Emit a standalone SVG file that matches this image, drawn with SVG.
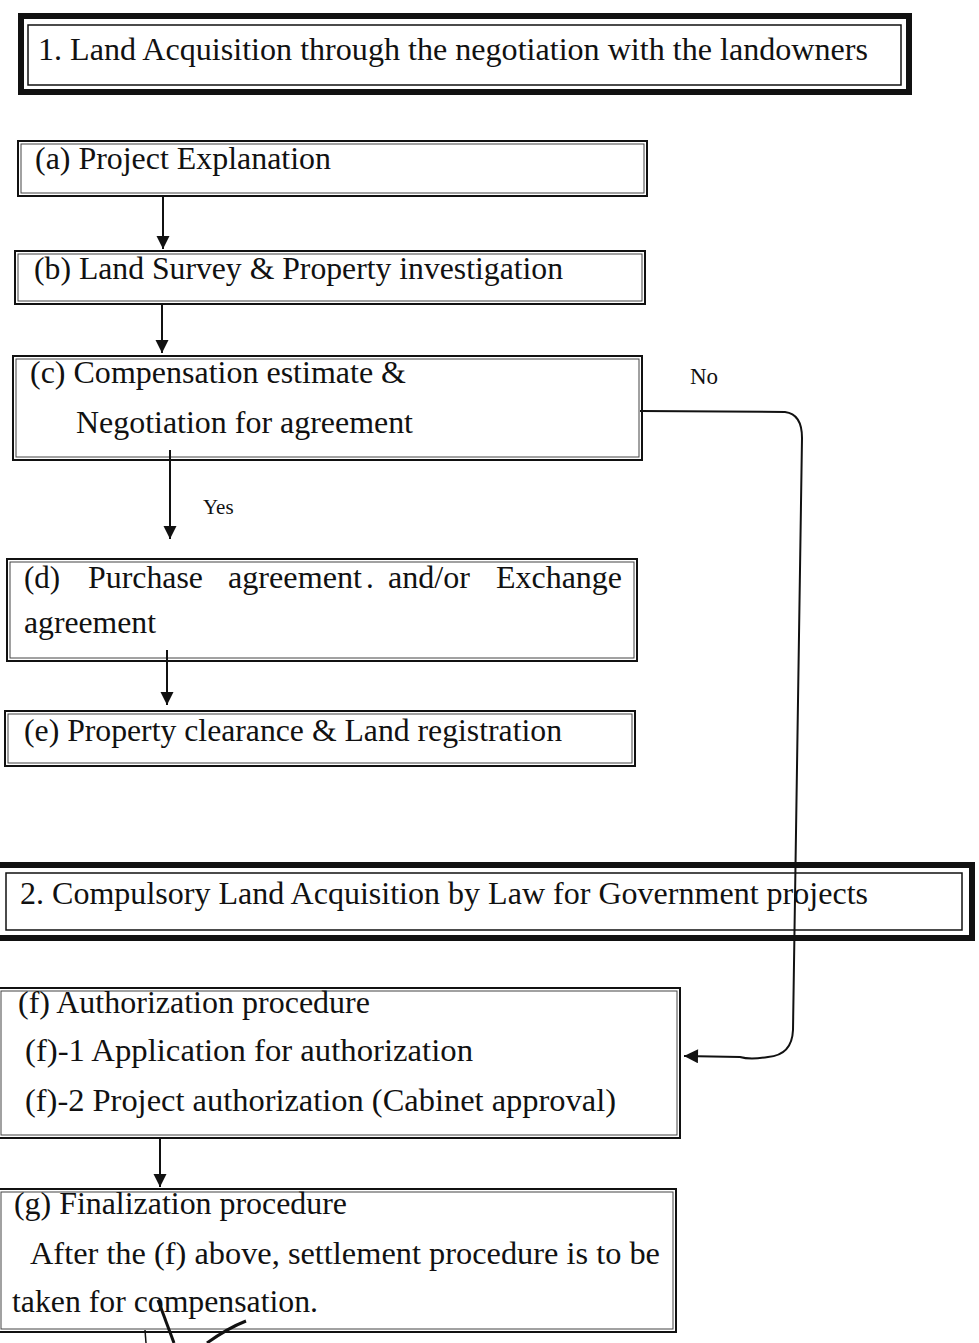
<svg xmlns="http://www.w3.org/2000/svg" width="979" height="1343" viewBox="0 0 979 1343">
<defs>
<marker id="ah" viewBox="0 0 10 10" refX="10" refY="5" markerWidth="13" markerHeight="14" markerUnits="userSpaceOnUse" orient="auto">
<path d="M0,0 L10,5 L0,10 z" fill="#111"/>
</marker>
<marker id="ahl" viewBox="0 0 10 10" refX="10" refY="5" markerWidth="16" markerHeight="14" markerUnits="userSpaceOnUse" orient="auto">
<path d="M0,0 L10,5 L0,10 z" fill="#111"/>
</marker>
</defs>
<style>
.t{font-family:"Liberation Serif","Times New Roman",serif;fill:#111;}
.big{font-size:32px;}
.med{font-size:31px;}
.sm{font-size:23px;}
.xs{font-size:21px;}
.box{fill:#fff;stroke:#111;stroke-width:2;}
.in{fill:none;stroke:#444;stroke-width:1;}
.hdr{fill:#fff;stroke:#111;stroke-width:6;}
.hin{fill:none;stroke:#111;stroke-width:1.5;}
.c{fill:none;stroke:#111;stroke-width:2;}
</style>
<rect width="979" height="1343" fill="#fff"/>

<g id="header1">
<rect class="hdr" x="21" y="16" width="888" height="76"/>
<rect class="hin" x="28" y="25" width="873" height="60"/>
<text class="t big" x="38" y="60" textLength="830" lengthAdjust="spacingAndGlyphs">1. Land Acquisition through the negotiation with the landowners</text>
</g>

<g id="node-a">
<rect class="box" x="18" y="141" width="629" height="55"/>
<rect class="in" x="21" y="144" width="623" height="49"/>
<text class="t med" x="35" y="169" textLength="296" lengthAdjust="spacingAndGlyphs">(a) Project Explanation</text>
</g>

<g id="node-b">
<rect class="box" x="15" y="251" width="630" height="53"/>
<rect class="in" x="18" y="254" width="624" height="47"/>
<text class="t med" x="34" y="279" textLength="529" lengthAdjust="spacingAndGlyphs">(b) Land Survey &amp; Property investigation</text>
</g>

<g id="node-c">
<rect class="box" x="13" y="356" width="629" height="104"/>
<rect class="in" x="16" y="359" width="623" height="98"/>
<text class="t med" x="30" y="383" textLength="376" lengthAdjust="spacingAndGlyphs">(c) Compensation estimate &amp;</text>
<text class="t med" x="76" y="433" textLength="337" lengthAdjust="spacingAndGlyphs">Negotiation for agreement</text>
</g>

<g id="node-d">
<rect class="box" x="7" y="559" width="630" height="102"/>
<rect class="in" x="10" y="562" width="624" height="96"/>
<text class="t med" y="588"><tspan x="24">(d)</tspan><tspan x="88" textLength="115" lengthAdjust="spacingAndGlyphs">Purchase</tspan><tspan x="228" textLength="134" lengthAdjust="spacingAndGlyphs">agreement</tspan><tspan x="366">.</tspan><tspan x="388" textLength="82" lengthAdjust="spacingAndGlyphs">and/or</tspan><tspan x="496" textLength="126" lengthAdjust="spacingAndGlyphs">Exchange</tspan></text>
<text class="t med" x="24" y="633" textLength="132" lengthAdjust="spacingAndGlyphs">agreement</text>
</g>

<g id="node-e">
<rect class="box" x="5" y="711" width="630" height="55"/>
<rect class="in" x="8" y="714" width="624" height="49"/>
<text class="t med" x="24" y="741" textLength="538" lengthAdjust="spacingAndGlyphs">(e) Property clearance &amp; Land registration</text>
</g>

<g id="header2">
<rect class="hdr" x="-4" y="865" width="976" height="73"/>
<rect class="hin" x="6" y="873" width="956" height="57"/>
<text class="t big" x="20" y="904" textLength="848" lengthAdjust="spacingAndGlyphs">2. Compulsory Land Acquisition by Law for Government projects</text>
</g>

<g id="node-f">
<rect class="box" x="-2" y="988" width="682" height="150"/>
<rect class="in" x="1" y="991" width="676" height="144"/>
<text class="t med" x="18" y="1013" textLength="352" lengthAdjust="spacingAndGlyphs">(f) Authorization procedure</text>
<text class="t med" x="25" y="1061" textLength="448" lengthAdjust="spacingAndGlyphs">(f)-1 Application for authorization</text>
<text class="t med" x="25" y="1111" textLength="591" lengthAdjust="spacingAndGlyphs">(f)-2 Project authorization (Cabinet approval)</text>
</g>

<g id="node-g">
<rect class="box" x="-2" y="1189" width="678" height="143"/>
<rect class="in" x="1" y="1192" width="672" height="137"/>
<text class="t med" x="14" y="1214" textLength="333" lengthAdjust="spacingAndGlyphs">(g) Finalization procedure</text>
<text class="t med" x="30" y="1264" textLength="630" lengthAdjust="spacingAndGlyphs">After the (f) above, settlement procedure is to be</text>
<text class="t med" x="12" y="1312" textLength="306" lengthAdjust="spacingAndGlyphs">taken for compensation.</text>
</g>

<g id="connectors">
<line class="c" x1="163" y1="196" x2="163" y2="249" marker-end="url(#ah)"/>
<line class="c" x1="162" y1="304" x2="162" y2="353" marker-end="url(#ah)"/>
<line class="c" x1="170" y1="450" x2="170" y2="539" marker-end="url(#ah)"/>
<line class="c" x1="167" y1="650" x2="167" y2="705" marker-end="url(#ah)"/>
<line class="c" x1="160" y1="1138" x2="160" y2="1187" marker-end="url(#ah)"/>
<path class="c" d="M640,411 L785,412 Q802,414 802,438 L793,1030 Q792,1055 768,1057 Q750,1060 740,1057 L684,1056" marker-end="url(#ahl)"/>
<text class="t xs" x="203" y="514">Yes</text>
<text class="t sm" x="690" y="384">No</text>
</g>

<g id="mark">
<path d="M158,1300 L174,1343" stroke="#111" stroke-width="3" fill="none"/>
<path d="M246,1321 Q228,1328 207,1343" stroke="#111" stroke-width="3" fill="none"/>
<path d="M145,1330 L146,1343" stroke="#111" stroke-width="1.5" fill="none"/>
</g>
</svg>
